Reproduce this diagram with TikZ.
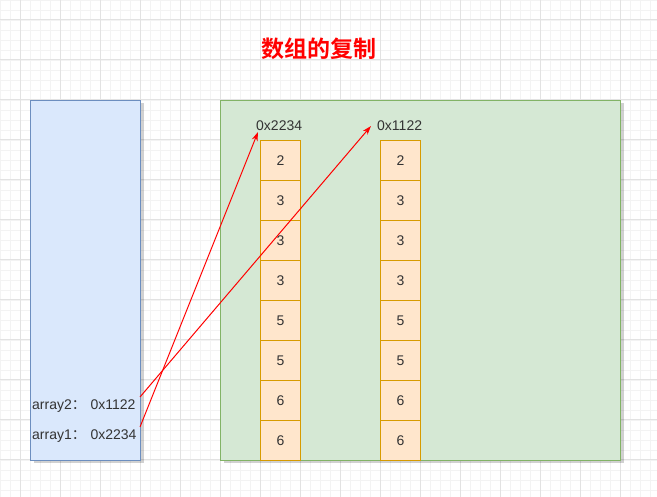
\documentclass[tikz,border=0pt]{standalone}
\usepackage{fontspec}
\setmainfont{Liberation Sans}
\newfontfamily\cjk{Noto Sans CJK SC}[BoldFont={Noto Sans CJK SC Bold}]
\usetikzlibrary{shadows,arrows.meta}
\definecolor{gridmin}{HTML}{F3F3F3}
\definecolor{gridmaj}{HTML}{E2E2E2}
\definecolor{bluefill}{HTML}{DAE8FC}
\definecolor{blueline}{HTML}{6C8EBF}
\definecolor{greenfill}{HTML}{D5E8D4}
\definecolor{greenline}{HTML}{82B366}
\definecolor{cellfill}{HTML}{FFE6CC}
\definecolor{cellline}{HTML}{D79B00}
\definecolor{txt}{HTML}{333333}
\tikzset{
  myshadow/.style={drop shadow={shadow xshift=3pt,shadow yshift=-3pt,opacity=0.18,fill=black}},
  panel/.style={draw, line width=1pt, minimum width=#1, inner sep=0pt, anchor=north west, myshadow},
  cellbox/.style={draw=cellline, fill=cellfill, line width=1pt, minimum width=40pt, minimum height=40pt, inner sep=0pt, anchor=north west, font=\fontsize{14pt}{16pt}\selectfont, text=txt},
  lbl/.style={font=\fontsize{14pt}{16pt}\selectfont, text=txt, inner sep=0pt},
  ptr/.style={draw=red, line width=1pt, -{Stealth[length=9pt,width=6pt]}}
}
\begin{document}
\begin{tikzpicture}[x=1pt,y=-1pt]
\useasboundingbox (0,0) rectangle (657,497);
% grid
\foreach \i in {0,10,...,650} \draw[gridmin, line width=0.8pt] (\i,0) -- (\i,497);
\foreach \i in {0,10,...,490} \draw[gridmin, line width=0.8pt] (0,\i) -- (657,\i);
\foreach \i in {20,60,...,650} \draw[gridmaj, line width=1pt] (\i,0) -- (\i,497);
\foreach \i in {20,60,...,490} \draw[gridmaj, line width=1pt] (0,\i) -- (657,\i);
% title
\node (title) [text=red, font=\cjk\bfseries\fontsize{23pt}{26pt}\selectfont] at (319,49) {数组的复制};
% panels
\node (stack) [panel=110pt, minimum height=360pt, draw=blueline, fill=bluefill] at (30,100) {};
\node (heap) [panel=400pt, minimum height=360pt, draw=greenline, fill=greenfill] at (220,100) {};
% columns
\foreach \v [count=\k from 0] in {2,3,3,3,5,5,6,6} {
  \node (L\k) [cellbox] at (260,140+40*\k) {\v};
  \node (R\k) [cellbox] at (380,140+40*\k) {\v};
}
% address labels
\node (adrA) [lbl, anchor=west] at (256,126) {0x2234};
\node (adrB) [lbl, anchor=west] at (377,126) {0x1122};
% variables
\node (a2) [lbl, anchor=west] at (32,406) {array2{\cjk：}\,\,0x1122};
\node (a1) [lbl, anchor=west] at (32,436) {array1{\cjk：}\,\,0x2234};
\coordinate (a2s) at (140,397);
\coordinate (a1s) at (140,427);
\coordinate (tA) at (258,132);
\coordinate (tB) at (371,126);
\draw[ptr] (a2s) -- (tB);
\draw[ptr] (a1s) -- (tA);
\end{tikzpicture}
\end{document}
